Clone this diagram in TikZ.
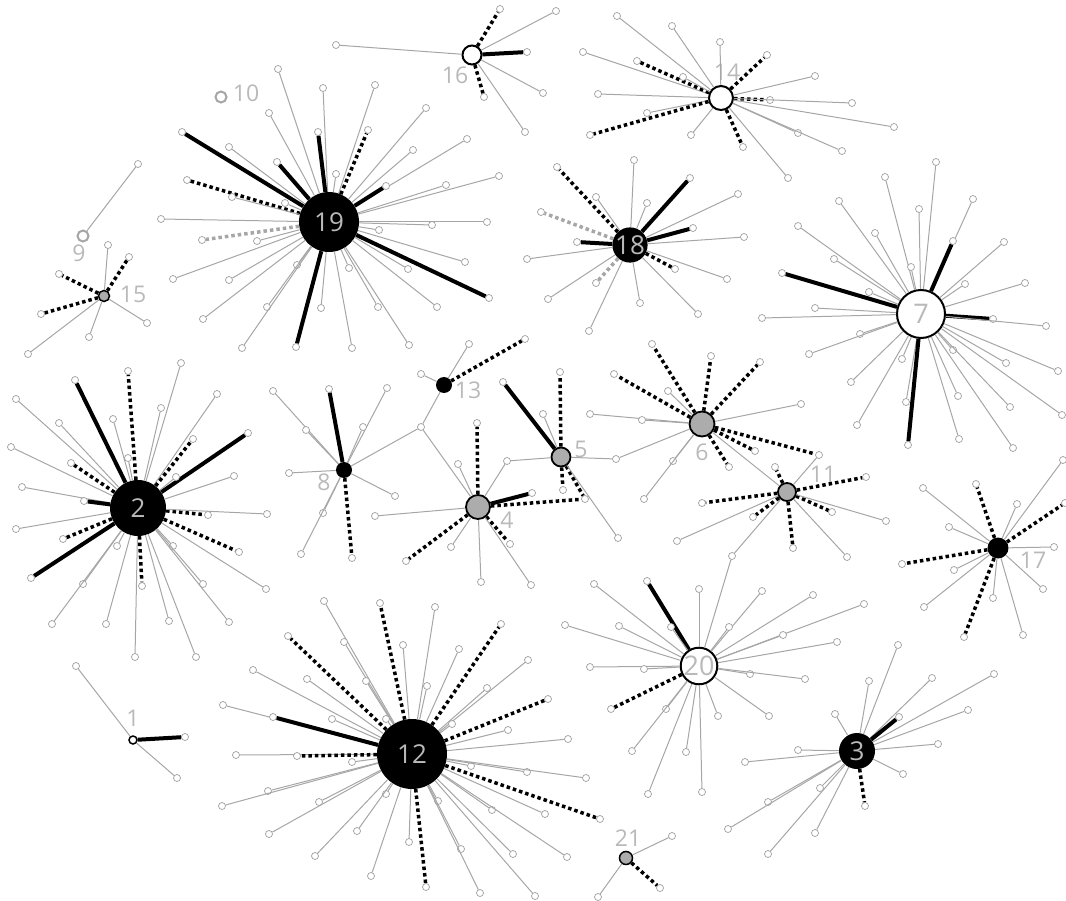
\documentclass[tikz,border=0pt]{standalone}
\usepackage{fontspec}
\setmainfont{Open Sans}
\usepackage{tikz}
\tikzstyle{leaf} = [circle, draw=gray!75, fill=white, line width=0.7pt, inner sep=0pt, minimum size=7pt]
\tikzstyle{hubblack} = [circle, fill=black, inner sep=0pt, text=gray!55, font=\fontsize{26}{26}\selectfont]
\tikzstyle{hubwhite} = [circle, draw=black, line width=2pt, fill=white, inner sep=0pt, text=gray!55, font=\fontsize{27}{27}\selectfont]
\tikzstyle{hubgray} = [circle, draw=black, line width=1.8pt, fill=gray!65, inner sep=0pt]
\tikzstyle{ring} = [circle, draw=gray!70, line width=2pt, inner sep=0pt, minimum size=11pt]
\tikzstyle{lbl} = [text=gray!55, inner sep=0pt, font=\fontsize{23}{23}\selectfont]
\tikzstyle{eg} = [draw=gray!70, line width=1pt]
\tikzstyle{eb} = [draw=black, line width=4pt]
\tikzstyle{ed} = [draw=black, line width=3.5pt, dash pattern=on 3.5pt off 3pt]
\tikzstyle{eh} = [draw=gray!70, line width=3.5pt, dash pattern=on 3.5pt off 3pt]

\begin{document}
\begin{tikzpicture}[x=1pt, y=-1pt]
  \useasboundingbox (0,0) rectangle (1066,901);

  % Hubs
  \node[hubblack, minimum size=60pt] (h19) at (329,222) {19};
  \node[hubblack, minimum size=56pt] (h2) at (138,508) {2};
  \node[hubblack, minimum size=70pt] (h12) at (412,754) {12};
  \node[hubblack, minimum size=34pt] (h18) at (630,245) {18};
  \node[hubblack, minimum size=36pt] (h3) at (857,751) {3};
  \node[hubblack, minimum size=16pt] (h8) at (344,470) {};
  \node[hubblack, minimum size=16pt] (h13) at (444,385) {};
  \node[hubblack, minimum size=21pt] (h17) at (998,548) {};
  \node[hubwhite, minimum size=48pt] (h7) at (921,314) {7};
  \node[hubwhite, minimum size=36pt] (h20) at (699,666) {20};
  \node[hubwhite, minimum size=24pt] (h14) at (721,98) {};
  \node[hubwhite, minimum size=19pt] (h16) at (472,55) {};
  \node[hubwhite, minimum size=8pt, line width=1.5pt] (h1) at (133,740) {};
  \node[hubgray, minimum size=24pt] (h4) at (478,507) {};
  \node[hubgray, minimum size=19pt] (h5) at (561,457) {};
  \node[hubgray, minimum size=25pt] (h6) at (702,424) {};
  \node[hubgray, minimum size=18pt] (h11) at (787,492) {};
  \node[hubgray, minimum size=11pt, line width=1.5pt] (h15) at (104,296) {};
  \node[hubgray, minimum size=13pt, line width=1.5pt] (h21) at (626,858) {};
  \node[ring] (h9) at (83,236) {};
  \node[ring] (h10) at (221,97) {};

  % Labels
  \node[lbl] (t16) at (455,75) {16};
  \node[lbl] (t14) at (727,72) {14};
  \node[lbl] (t13) at (468,390) {13};
  \node[lbl] (t5) at (581,449) {5};
  \node[lbl] (t6) at (702,452) {6};
  \node[lbl] (t11) at (823,474) {11};
  \node[lbl] (t4) at (507,520) {4};
  \node[lbl] (t8) at (324,482) {8};
  \node[lbl] (t17) at (1033,560) {17};
  \node[lbl] (t15) at (133,294) {15};
  \node[lbl] (t9) at (79,253) {9};
  \node[lbl] (t10) at (246,93) {10};
  \node[lbl] (t1) at (133,718) {1};
  \node[lbl] (t21) at (628,838) {21};

  % Shared leaves
  \node[leaf] (j1) at (421,427) {};
  \node[leaf] (j2) at (507,461) {};
  \node[leaf] (j3) at (585,499) {};
  \node[leaf] (j4) at (616,459) {};
  \node[leaf] (j5) at (819,455) {};
  \node[leaf] (j6) at (732,556) {};
  \draw[eg] (h8) -- (j1);  \draw[eg] (h13) -- (j1);  \draw[eg] (h4) -- (j1);
  \draw[eg] (h4) -- (j2);  \draw[eg] (h5) -- (j2);
  \draw[ed] (h4) -- (j3);  \draw[ed] (h5) -- (j3);
  \draw[eg] (h5) -- (j4);  \draw[eg] (h6) -- (j4);
  \draw[ed] (h6) -- (j5);  \draw[eg] (h11) -- (j5);
  \draw[eg] (h11) -- (j6); \draw[eg] (h20) -- (j6);
  \draw[eg] (h6) -- (h11);

  % Leaves
  \foreach \px/\py/\s [count=\i] in {278/69/eg, 323/88/eg, 375/85/eg, 269/113/eg, 426/108/eg, 182/132/eb, 318/132/eb, 368/130/ed, 229/147/eg, 467/139/eg, 413/150/eg, 277/162/eb, 336/174/eg, 386/186/eb, 446/185/eg, 499/176/eg, 187/180/ed, 232/197/eg, 285/203/eg, 161/219/eg, 432/225/eg, 487/222/eg, 379/230/eg, 202/240/eh, 257/241/eg, 465/262/eg, 489/298/eb, 173/279/eg, 229/280/eg, 297/265/eg, 349/268/eg, 408/269/eg, 203/319/eg, 267/307/eg, 321/308/eg, 378/307/eg, 437/307/eg, 242/348/eg, 296/347/eb, 352/348/eg, 409/345/eg}
  {
    \node[leaf] (l19-\i) at (\px,\py) {};
    \draw[\s] (h19) -- (l19-\i);
  }
  \foreach \px/\py/\s [count=\i] in {617/16/eg, 672/26/eg, 720/42/eg, 583/52/eg, 637/61/ed, 767/55/ed, 815/76/eg, 598/94/eg, 683/77/eg, 770/100/ed, 852/103/eg, 647/113/eg, 590/135/ed, 691/135/eg, 743/147/ed, 798/133/eg, 842/151/eg, 894/127/eg, 788/178/eg}
  {
    \node[leaf] (l14-\i) at (\px,\py) {};
    \draw[\s] (h14) -- (l14-\i);
  }
  \foreach \px/\py/\s [count=\i] in {336/45/eg, 500/9/ed, 556/11/eg, 527/52/eb, 543/93/eg, 525/132/eg, 484/97/ed}
  {
    \node[leaf] (l16-\i) at (\px,\py) {};
    \draw[\s] (h16) -- (l16-\i);
  }
  \foreach \px/\py/\s [count=\i] in {634/160/eg, 557/167/ed, 690/178/eb, 596/197/eg, 647/203/eg, 738/194/eg, 541/212/eh, 693/228/eb, 744/237/eg, 577/242/eb, 527/259/eg, 675/269/ed, 727/279/eg, 596/283/eh, 548/299/eg, 640/303/eg, 698/314/eg, 589/331/eg}
  {
    \node[leaf] (l18-\i) at (\px,\py) {};
    \draw[\s] (h18) -- (l18-\i);
  }
  \foreach \px/\py/\s [count=\i] in {936/162/eg, 885/177/eg, 973/199/eg, 839/201/eg, 919/209/eg, 798/226/eg, 875/233/eg, 1004/242/eg, 953/241/eb, 834/259/eg, 911/267/eg, 782/273/eb, 1025/283/eg, 965/284/eg, 869/292/eg, 815/308/eg, 762/318/eg, 993/319/eb, 1046/326/eg, 860/334/eg, 809/354/eg, 953/350/eg, 902/359/eg, 1006/363/eg, 1058/371/eg, 851/382/eg, 958/396/eg, 1010/407/eg, 906/402/eg, 857/425/eg, 908/445/eb, 959/439/eg, 1062/415/eg, 1013/448/eg}
  {
    \node[leaf] (l7-\i) at (\px,\py) {};
    \draw[\s] (h7) -- (l7-\i);
  }
  \foreach \px/\py/\s [count=\i] in {181/363/eg, 128/371/ed, 75/380/eb, 217/394/eg, 16/399/eg, 161/408/eg, 113/419/eg, 59/423/eg, 248/433/eb, 193/439/ed, 11/447/eg, 128/458/eg, 71/463/ed, 234/476/eg, 176/477/eg, 22/487/eg, 84/501/eb, 208/515/ed, 267/514/eg, 16/529/eg, 63/539/ed, 239/552/ed, 117/546/eg, 173/546/eg, 31/578/eb, 83/584/eg, 142/586/ed, 203/584/eg, 266/589/eg, 52/624/eg, 106/624/eg, 169/621/eg, 229/622/eg, 135/657/eg, 196/657/eg}
  {
    \node[leaf] (l2-\i) at (\px,\py) {};
    \draw[\s] (h2) -- (l2-\i);
  }
  \foreach \px/\py/\s [count=\i] in {273/391/eg, 329/389/eb, 387/388/eg, 306/430/eg, 363/427/eg, 289/473/eg, 395/496/eg, 323/513/eg, 301/554/eg, 352/558/ed}
  {
    \node[leaf] (l8-\i) at (\px,\py) {};
    \draw[\s] (h8) -- (l8-\i);
  }
  \foreach \px/\py/\s [count=\i] in {469/344/eg, 525/339/ed, 421/374/eg}
  {
    \node[leaf] (l13-\i) at (\px,\py) {};
    \draw[\s] (h13) -- (l13-\i);
  }
  \foreach \px/\py/\s [count=\i] in {477/423/ed, 458/464/eg, 532/493/eb, 375/516/eg, 406/561/ed, 451/547/eg, 510/544/ed, 481/582/eg, 531/585/eg}
  {
    \node[leaf] (l4-\i) at (\px,\py) {};
    \draw[\s] (h4) -- (l4-\i);
  }
  \foreach \px/\py/\s [count=\i] in {503/382/eb, 560/372/ed, 543/414/eg, 563/490/ed, 618/538/eg}
  {
    \node[leaf] (l5-\i) at (\px,\py) {};
    \draw[\s] (h5) -- (l5-\i);
  }
  \foreach \px/\py/\s [count=\i] in {652/344/ed, 711/356/ed, 760/362/ed, 614/374/ed, 668/391/eg, 801/404/eg, 590/414/eg, 642/420/eg, 755/451/ed, 729/467/ed, 673/461/eg, 644/499/eg}
  {
    \node[leaf] (l6-\i) at (\px,\py) {};
    \draw[\s] (h6) -- (l6-\i);
  }
  \foreach \px/\py/\s [count=\i] in {775/467/ed, 866/477/ed, 702/503/ed, 753/517/ed, 832/512/ed, 886/521/eg, 677/541/eg, 793/548/ed, 847/557/eg}
  {
    \node[leaf] (l11-\i) at (\px,\py) {};
    \draw[\s] (h11) -- (l11-\i);
  }
  \foreach \px/\py/\s [count=\i] in {923/488/eg, 976/484/ed, 1017/504/eg, 1063/460/eg, 1065/503/ed, 949/527/eg, 1054/547/eg, 902/564/ed, 954/570/eg, 1043/589/eg, 993/598/eg, 924/607/eg, 964/637/ed, 1023/635/eg}
  {
    \node[leaf] (l17-\i) at (\px,\py) {};
    \draw[\s] (h17) -- (l17-\i);
  }
  \foreach \px/\py/\s [count=\i] in {324/601/eg, 380/603/ed, 435/607/eg, 501/624/ed, 288/636/ed, 344/642/eg, 403/645/eg, 459/649/eg, 528/660/eg, 253/670/eg, 307/679/eg, 366/681/eg, 427/686/eg, 487/688/eg, 548/699/ed, 223/705/eg, 273/717/eb, 332/719/eg, 386/719/eg, 452/724/eg, 508/730/eg, 568/739/eg, 236/755/eg, 297/756/ed, 352/762/eg, 471/766/eg, 527/772/eg, 586/778/eg, 268/791/eg, 222/806/eg, 319/802/eg, 386/794/eg, 438/801/eg, 492/810/eg, 545/814/eg, 600/819/ed, 269/834/eg, 357/831/eg, 409/842/eg, 461/849/eg, 513/854/eg, 567/857/eg, 315/856/eg, 371/876/eg, 426/887/ed, 480/893/eg, 535/896/eg}
  {
    \node[leaf] (l12-\i) at (\px,\py) {};
    \draw[\s] (h12) -- (l12-\i);
  }
  \foreach \px/\py/\s [count=\i] in {647/581/eb, 594/584/eg, 699/589/eg, 762/591/eg, 813/595/eg, 864/604/eg, 565/625/eg, 619/626/eg, 671/627/eg, 729/627/eg, 783/635/eg, 837/642/eg, 590/667/eg, 644/669/eg, 750/674/eg, 805/679/eg, 611/709/ed, 666/709/eg, 718/716/eg, 769/716/eg, 632/751/eg, 686/752/eg, 648/794/eg, 702/792/eg}
  {
    \node[leaf] (l20-\i) at (\px,\py) {};
    \draw[\s] (h20) -- (l20-\i);
  }
  \foreach \px/\py/\s [count=\i] in {898/645/eg, 932/678/eg, 994/674/eg, 869/681/eg, 968/710/eg, 835/714/eg, 899/717/eb, 938/744/eg, 798/750/eg, 745/762/eg, 903/774/eg, 820/788/eg, 865/806/ed, 768/802/eg, 728/829/eg, 815/833/eg, 768/854/eg}
  {
    \node[leaf] (l3-\i) at (\px,\py) {};
    \draw[\s] (h3) -- (l3-\i);
  }
  \foreach \px/\py/\s [count=\i] in {108/245/eg, 129/257/ed, 59/274/ed, 41/314/ed, 147/323/eg, 89/337/eg, 28/354/eg}
  {
    \node[leaf] (l15-\i) at (\px,\py) {};
    \draw[\s] (h15) -- (l15-\i);
  }
  \foreach \px/\py/\s [count=\i] in {76/666/eg, 185/737/eb, 177/778/eg}
  {
    \node[leaf] (l1-\i) at (\px,\py) {};
    \draw[\s] (h1) -- (l1-\i);
  }
  \foreach \px/\py/\s [count=\i] in {672/836/eg, 660/888/ed, 598/897/eg}
  {
    \node[leaf] (l21-\i) at (\px,\py) {};
    \draw[\s] (h21) -- (l21-\i);
  }
  \node[leaf] (l9-1) at (138,164) {};
  \draw[eg] (h9) -- (l9-1);
\end{tikzpicture}
\end{document}
